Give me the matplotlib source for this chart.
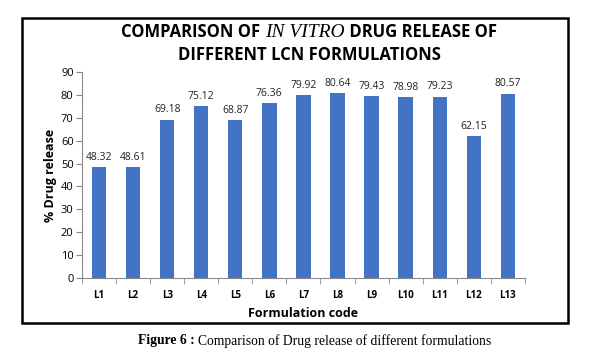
import numpy as np
import matplotlib.pyplot as plt
from matplotlib.patches import Rectangle

# dados do gráfico
codes = ["L1", "L2", "L3", "L4", "L5", "L6", "L7", "L8", "L9", "L10", "L11", "L12", "L13"]
release = [48.32, 48.61, 69.18, 75.12, 68.87, 76.36, 79.92, 80.64, 79.43, 78.98, 79.23, 62.15, 80.57]
yticks = [0, 10, 20, 30, 40, 50, 60, 70, 80, 90]

fig = plt.figure(figsize=(6, 3.57), dpi=100)
ax = fig.add_axes([0.1367, 0.2213, 0.738, 0.577])

x = np.arange(len(codes))
bars = ax.bar(x, release, width=0.42, color="#4472C4")
ax.bar_label(bars, labels=[f"{v:.2f}" for v in release], padding=3,
             fontsize=7.5, color="#222222", family="Open Sans")

ax.set_xlim(-0.5, len(codes) - 0.5)
ax.set_ylim(0, 90)
ax.set_yticks(yticks)
ax.set_xticks(x)
ax.set_xticklabels(codes, fontsize=7, fontweight="bold", family="Open Sans")
ax.tick_params(axis="x", length=0, pad=9)
ax.set_xticks(np.arange(-0.5, len(codes)), minor=True)
ax.tick_params(axis="x", which="minor", length=4, color="#888888")
ax.tick_params(axis="y", labelsize=8, length=4, color="#888888", pad=2)
for lab in ax.get_yticklabels():
    lab.set_family("Open Sans")
for s in ["top", "right"]:
    ax.spines[s].set_visible(False)
for s in ["left", "bottom"]:
    ax.spines[s].set_color("#888888")
    ax.spines[s].set_linewidth(0.8)

ax.set_xlabel("Formulation code", fontsize=9, fontweight="bold", family="Open Sans", labelpad=4)
ax.set_ylabel("% Drug release", fontsize=9, fontweight="bold", family="Open Sans", labelpad=3)

# moldura externa
fig.patches.append(Rectangle((0.037, 0.095), 0.910, 0.855, transform=fig.transFigure,
                             fill=False, edgecolor="black", linewidth=1.8))

# título em partes (IN VITRO em itálico serifado)
fig.canvas.draw()
r = fig.canvas.get_renderer()
parts = [("COMPARISON OF ", dict(family="Open Sans", fontweight="bold", fontsize=12)),
         ("IN VITRO", dict(family="Liberation Serif", style="italic", fontsize=14)),
         (" DRUG RELEASE OF", dict(family="Open Sans", fontweight="bold", fontsize=12))]
texts = [fig.text(0, 0.91, s, va="center", ha="left", **kw) for s, kw in parts]
widths = [t.get_window_extent(r).width / fig.bbox.width for t in texts]
xpos = 0.515 - sum(widths) / 2
for t, w in zip(texts, widths):
    t.set_x(xpos)
    xpos += w
fig.text(0.515, 0.845, "DIFFERENT LCN FORMULATIONS", ha="center", va="center",
         family="Open Sans", fontweight="bold", fontsize=12)

# legenda da figura
cap1 = fig.text(0, 0.045, "Figure 6 : ", family="Liberation Serif", fontweight="bold", fontsize=9.8, va="center")
cap2 = fig.text(0, 0.045, "Comparison of Drug release of different formulations",
                family="Liberation Serif", fontsize=9.8, va="center")
w1 = cap1.get_window_extent(r).width / fig.bbox.width
w2 = cap2.get_window_extent(r).width / fig.bbox.width
start = 0.525 - (w1 + w2) / 2
cap1.set_x(start)
cap2.set_x(start + w1)

fig.savefig("out.png", dpi=100)
